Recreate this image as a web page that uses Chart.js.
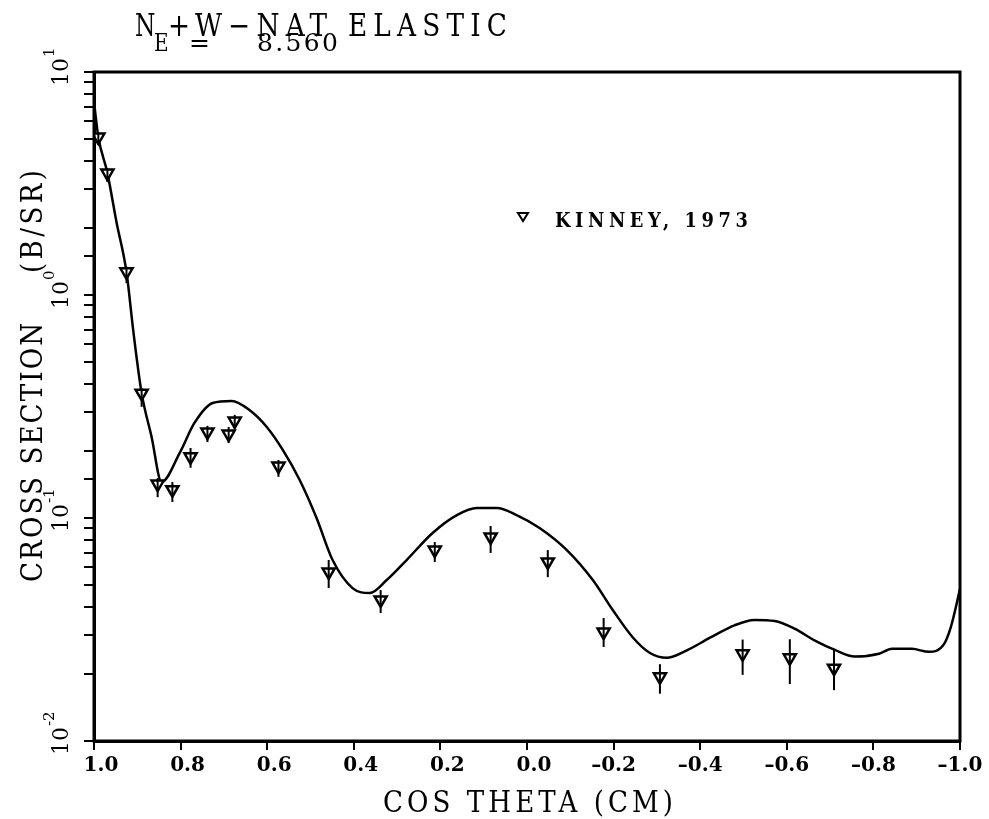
<!DOCTYPE html>
<html>
<head>
<meta charset="utf-8">
<title>N + W-NAT elastic, E = 8.560</title>
<script src="https://cdn.jsdelivr.net/npm/chart.js@4.4.1/dist/chart.umd.min.js"></script>
<style>
  html, body { margin: 0; padding: 0; background: #fff; }
</style>
</head>
<body>
<canvas id="xsChart" width="989" height="819"></canvas>
<script>
// evaluated angular distribution (solid curve)
const curveCos = [1.0, 0.990, 0.969, 0.948, 0.925, 0.909, 0.890, 0.867, 0.844, 0.802, 0.768, 0.726,
  0.682, 0.641, 0.601, 0.564, 0.525, 0.486, 0.449, 0.403, 0.363, 0.324,
  0.278, 0.218, 0.162, 0.116, 0.070, 0.024, -0.029, -0.092, -0.152, -0.198,
  -0.244, -0.284, -0.323, -0.362, -0.425, -0.479, -0.525, -0.572, -0.619, -0.665,
  -0.711, -0.757, -0.813, -0.843, -0.889, -0.928, -0.963, -0.979, -1.0];
const curveSigma = [7.34, 5.11, 3.52, 2.12, 1.27, 0.683, 0.363, 0.231, 0.145, 0.196, 0.267, 0.328,
  0.335, 0.305, 0.256, 0.202, 0.148, 0.100, 0.0648, 0.0485, 0.0461, 0.0527,
  0.0648, 0.0857, 0.1031, 0.111, 0.111, 0.1031, 0.0902, 0.0718, 0.0527, 0.0387,
  0.0292, 0.0248, 0.0236, 0.0251, 0.0292, 0.0330, 0.0349, 0.0345, 0.0318, 0.0282,
  0.0256, 0.0239, 0.0246, 0.0259, 0.0259, 0.0251, 0.0272, 0.0325, 0.048];

// Kinney, 1973 measurements with error bar limits
const expCos = [0.990, 0.969, 0.925, 0.890, 0.853, 0.819, 0.777, 0.738, 0.689, 0.675,
  0.574, 0.458, 0.338, 0.213, 0.084, -0.048, -0.177, -0.307, -0.498, -0.607, -0.709];
const expSigma = [5.11, 3.52, 1.27, 0.363, 0.142, 0.134, 0.188, 0.243, 0.238, 0.272,
  0.171, 0.0573, 0.0429, 0.0718, 0.0822, 0.0635, 0.0308, 0.0194, 0.0246, 0.0236, 0.0212];
const expHigh = [5.38, 3.71, 1.34, 0.383, 0.151, 0.145, 0.206, 0.259, 0.256, 0.290,
  0.182, 0.0648, 0.0475, 0.0780, 0.0921, 0.0718, 0.0356, 0.0221, 0.0285, 0.0286, 0.0259];
const expLow = [4.71, 3.21, 1.13, 0.315, 0.124, 0.118, 0.168, 0.219, 0.217, 0.253,
  0.153, 0.0485, 0.0375, 0.0635, 0.0697, 0.0543, 0.0264, 0.0163, 0.0198, 0.0180, 0.0169];

// axis labels
const xTicks = [1.0, 0.8, 0.6, 0.4, 0.2, 0.0, -0.2, -0.4, -0.6, -0.8, -1.0];
const yDecades = [0.01, 0.1, 1, 10];
const yExponents = ['-2', '-1', '0', '1'];

const serif = '"DejaVu Serif", "Liberation Serif", serif';

// draw a string from x so that it spans the given width;
// sx < 1 narrows the glyphs themselves
function spreadText(ctx, str, x, y, width, sx = 1) {
  ctx.save();
  ctx.translate(x, y);
  ctx.scale(sx, 1);
  ctx.letterSpacing = '0px';
  const natural = ctx.measureText(str).width;
  const gap = str.length > 1 ? (width / sx - natural) / (str.length - 1) : 0;
  ctx.letterSpacing = gap + 'px';
  ctx.fillText(str, 0, 0);
  ctx.restore();
}

const errorBars = {
  id: 'errorBars',
  afterDatasetsDraw(chart) {
    const { ctx, scales: { x, y } } = chart;
    ctx.save();
    ctx.strokeStyle = '#000';
    ctx.lineWidth = 2;
    expCos.forEach((c, i) => {
      const px = x.getPixelForValue(c);
      ctx.beginPath();
      ctx.moveTo(px, y.getPixelForValue(expHigh[i]));
      ctx.lineTo(px, y.getPixelForValue(expLow[i]));
      ctx.stroke();
    });
    ctx.restore();
  }
};

// frame, titles, y labels (10^n) and the legend entry
const decorations = {
  id: 'decorations',
  afterDraw(chart) {
    const { ctx, chartArea: a, scales: { y } } = chart;
    ctx.save();
    ctx.strokeStyle = '#000';
    ctx.fillStyle = '#000';
    ctx.lineWidth = 3;
    ctx.strokeRect(a.left, a.top, a.right - a.left, a.bottom - a.top);

    ctx.textAlign = 'left';
    ctx.textBaseline = 'alphabetic';

    // heading
    ctx.font = '31px ' + serif;
    spreadText(ctx, 'N', 135, 36, 18, 0.75);
    spreadText(ctx, '+', 168, 36, 21, 0.85);
    spreadText(ctx, 'W\u2212NAT ELASTIC', 195, 36, 312, 0.85);
    ctx.font = '25px ' + serif;
    spreadText(ctx, 'E', 154, 51, 16, 0.8);
    spreadText(ctx, '=', 189, 51, 25);
    spreadText(ctx, '8.560', 257, 51, 81);

    // x title
    ctx.font = '29px ' + serif;
    spreadText(ctx, 'COS THETA (CM)', 383, 812, 290, 0.9);

    // y title, rotated
    ctx.save();
    ctx.translate(42, 582);
    ctx.rotate(-Math.PI / 2);
    spreadText(ctx, 'CROSS SECTION', 0, 0, 259, 0.9);
    spreadText(ctx, '(B/SR)', 309, 0, 103, 0.9);
    ctx.restore();

    // y tick labels
    yDecades.forEach((v, i) => {
      const py = y.getPixelForValue(v);
      ctx.save();
      ctx.translate(68, py);
      ctx.rotate(-Math.PI / 2);
      ctx.font = '22px ' + serif;
      const w = ctx.measureText('10').width;
      ctx.fillText('10', -w / 2, 0);
      ctx.font = '15px ' + serif;
      ctx.fillText(yExponents[i], w / 2 + 1, -14);
      ctx.restore();
    });

    // legend
    const lx = 523, ly = 216, r = 5;
    ctx.lineWidth = 2;
    ctx.beginPath();
    ctx.moveTo(lx - r, ly - r * 0.6);
    ctx.lineTo(lx + r, ly - r * 0.6);
    ctx.lineTo(lx, ly + r);
    ctx.closePath();
    ctx.stroke();
    ctx.font = 'bold 21px ' + serif;
    spreadText(ctx, 'KINNEY, 1973', 555, 227, 193, 0.85);
    ctx.restore();
  }
};

new Chart(document.getElementById('xsChart'), {
  type: 'scatter',
  data: {
    datasets: [
      {
        label: 'KINNEY, 1973',
        data: expCos.map((c, i) => ({ x: c, y: expSigma[i] })),
        pointStyle: 'triangle',
        rotation: 180,
        pointRadius: 7,
        pointHoverRadius: 7,
        borderColor: '#000',
        backgroundColor: '#fff',
        borderWidth: 2.5,
        order: 0
      },
      {
        label: 'evaluation',
        data: curveCos.map((c, i) => ({ x: c, y: curveSigma[i] })),
        showLine: true,
        pointRadius: 0,
        borderColor: '#000',
        borderWidth: 2.5,
        cubicInterpolationMode: 'monotone',
        order: 1
      }
    ]
  },
  options: {
    responsive: false,
    animation: false,
    events: [],
    layout: { padding: { top: 72, right: 29, left: 0, bottom: 0 } },
    plugins: {
      legend: { display: false },
      tooltip: { enabled: false }
    },
    scales: {
      x: {
        type: 'linear',
        reverse: true,
        min: -1,
        max: 1,
        afterBuildTicks: s => { s.ticks = xTicks.map(v => ({ value: v })); },
        afterFit: s => { s.height = 78; },
        grid: { drawOnChartArea: false, tickLength: 9, color: '#000', lineWidth: 2 },
        border: { color: '#000', width: 3 },
        ticks: {
          autoSkip: false,
          maxRotation: 0,
          padding: 4,
          color: '#000',
          font: { family: serif, size: 20, weight: 'bold' },
          callback: v => (v < 0 ? '\u2013' : '\u2007') + Math.abs(v).toFixed(1)
        }
      },
      y: {
        type: 'logarithmic',
        min: 0.01,
        max: 10,
        afterFit: s => { s.width = 94; },
        grid: { drawOnChartArea: false, tickLength: 10, color: '#000', lineWidth: 2 },
        border: { color: '#000', width: 3 },
        ticks: { display: false }
      }
    }
  },
  plugins: [errorBars, decorations]
});
</script>
</body>
</html>
